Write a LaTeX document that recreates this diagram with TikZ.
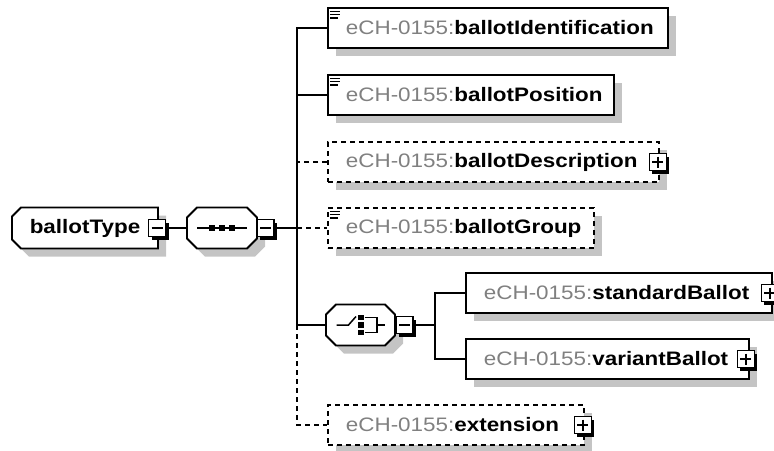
\documentclass[tikz,border=0pt]{standalone}
\usepackage{fontspec}
\setmainfont[FakeStretch=1.15]{Liberation Sans}
\usetikzlibrary{shadows}
\definecolor{prefixgray}{HTML}{808080}
\definecolor{shadowgray}{HTML}{C4C4C4}
\newcommand{\ech}[1]{\mbox{{\color{prefixgray}eCH-0155:}\textbf{#1}}}
\newcommand{\simplemark}[1]{%
    \foreach \dy/\len in {4.3/10,7.7/10,11/8}
        \draw[line width=1.3pt] ([xshift=3pt,yshift=-\dy pt]#1.north west) -- ++(\len,0);}
% outline with cut corners round an empty node
\newcommand{\octagon}[2]{%
    \draw[box] ([xshift=#2]#1.north west) -- ([xshift=-#2]#1.north east) -- ([yshift=-#2]#1.north east)
        -- ([yshift=#2]#1.south east) -- ([xshift=-#2]#1.south east) -- ([xshift=#2]#1.south west)
        -- ([yshift=#2]#1.south west) -- ([yshift=-#2]#1.north west) -- cycle;}

\begin{document}
\begin{tikzpicture}[x=1pt, y=-1pt, line width=1.8pt]
    % Define styles
    \tikzset{
        box/.style={draw, fill=white, line width=1.8pt,
            drop shadow={shadow xshift=8pt, shadow yshift=-8pt, fill=shadowgray, opacity=1}},
        elem/.style={box, anchor=west, minimum height=40pt, inner xsep=18pt, inner ysep=0pt,
            align=left, font=\fontsize{19.5}{23}\selectfont},
        optelem/.style={elem, dash pattern=on 5pt off 4pt},
        frame/.style={minimum width=#1, minimum height=41pt, inner sep=0pt, outer sep=0pt,
            font=\fontsize{19.5}{23}\selectfont},
        pmbox/.style={draw, fill=white, line width=1.5pt, minimum size=17pt, inner sep=0pt,
            drop shadow={shadow xshift=3pt, shadow yshift=-3pt, fill=black, opacity=1}},
        minusbox/.style={pmbox, path picture={
            \draw[line width=1.5pt] ([xshift=3pt]path picture bounding box.west) -- ([xshift=-3pt]path picture bounding box.east);}},
        plusbox/.style={pmbox, path picture={
            \draw[line width=1.5pt] ([xshift=3pt]path picture bounding box.west) -- ([xshift=-3pt]path picture bounding box.east)
                ([yshift=-3pt]path picture bounding box.north) -- ([yshift=3pt]path picture bounding box.south);}},
        opt/.style={dash pattern=on 5pt off 4pt}
    }
    \useasboundingbox (0,0) rectangle (774,450);

    % Type and sequence
    \node[frame=146pt] (btype) at (85,228) {};
    \draw[box] ([xshift=9pt]btype.north west) -- (btype.north east) -- (btype.south east)
        -- ([xshift=9pt]btype.south west) -- ([yshift=9pt]btype.south west) -- ([yshift=-9pt]btype.north west) -- cycle;
    \node[font=\fontsize{19.5}{23}\selectfont\bfseries] (btlabel) at (btype.center) {ballotType};
    \node[minusbox] (btminus) at (157,228) {};
    \node[frame=70pt] (seq) at (222,228) {};
    \octagon{seq}{10pt}
    \node[minusbox] (seqminus) at (265.5,228) {};
    \coordinate (trunk) at (297,228);

    % Elements of the sequence
    \node[elem, text width=304pt] (ident) at (327,28) {\ech{ballotIdentification}};
    \node[elem, text width=250pt] (pos) at (327,95) {\ech{ballotPosition}};
    \node[optelem, text width=295pt] (desc) at (327,162) {\ech{ballotDescription}};
    \node[plusbox] (descplus) at ([xshift=-2pt]desc.east) {};
    \node[optelem, text width=230pt] (group) at (327,228) {\ech{ballotGroup}};
    \node[optelem, text width=220pt] (ext) at (327,425) {\ech{extension}};
    \node[plusbox] (extplus) at ([xshift=-2pt]ext.east) {};

    % Choice
    \node[frame=69pt] (choice) at (360.5,325) {};
    \octagon{choice}{10pt}
    \node[minusbox] (chminus) at (404.5,325) {};
    \node[elem, text width=270pt] (std) at (465,293) {\ech{standardBallot}};
    \node[plusbox] (stdplus) at ([xshift=-3pt]std.east) {};
    \node[elem, text width=247pt] (var) at (465,359) {\ech{variantBallot}};
    \node[plusbox] (varplus) at ([xshift=-4pt]var.east) {};

    % Simple content marks
    \simplemark{ident}
    \simplemark{pos}
    \simplemark{group}

    % Sequence icon
    \draw[line width=1.5pt] ([xshift=-25pt]seq.center) -- ([xshift=25pt]seq.center);
    \foreach \dx in {-10,0,10}
        \fill ([xshift=\dx pt]seq.center) +(-2.7,-2.7) rectangle +(2.7,2.7);

    % Choice icon
    \begin{scope}[shift={(choice.center)}, line width=1.5pt]
        \draw (-24,0) -- (-12,0) -- (-4.5,-8.5);
        \foreach \dy in {-7.5,0,7.5}
            \fill (0.5,\dy) +(-2.7,-2.7) rectangle +(2.7,2.7);
        \draw (4,-7.5) -- (16.5,-7.5) -- (16.5,7.5) -- (4,7.5) (16.5,0) -- (24.5,0);
    \end{scope}

    % Lines
    \draw (btminus.east) -- (seq.west);
    \draw (seqminus.east) -- (trunk);
    \draw (ident.west) -- ++(-30,0) |- (choice.west);
    \draw (pos.west) -- ++(-30,0);
    \draw[opt] (desc.west) -- ++(-30,0);
    \draw[opt] (trunk) -- (group.west);
    \draw[opt] (choice.west -| trunk) |- (ext.west);
    \draw (chminus.east) -- ++(22,0);
    \draw (std.west) -- ++(-30,0) |- (var.west);
\end{tikzpicture}
\end{document}
